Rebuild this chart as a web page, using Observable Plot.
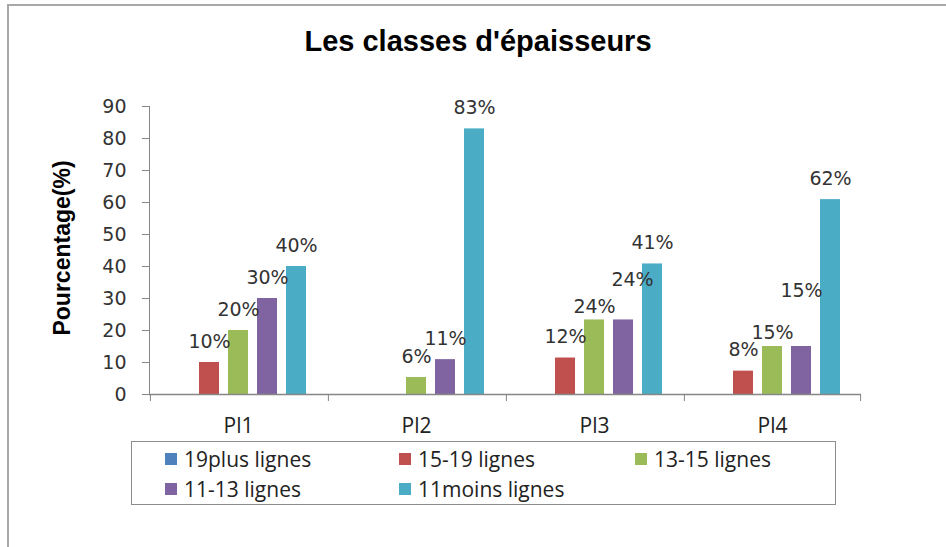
<!DOCTYPE html>
<html><head><meta charset="utf-8">
<script src="https://cdn.jsdelivr.net/npm/d3@7"></script>
<script src="https://cdn.jsdelivr.net/npm/@observablehq/plot@0.6"></script>
<style>
html,body{margin:0;padding:0;background:#fff;}
#chart{position:relative;width:946px;height:547px;overflow:hidden;background:#fff;}
#border{position:absolute;left:7px;top:4px;width:1000px;height:700px;border-left:2px solid #a8a8a8;border-top:2px solid #a8a8a8;box-sizing:border-box;}
#title{position:absolute;left:5px;width:946px;top:25px;line-height:29px;text-align:center;font:bold 29px "Liberation Sans",Arial,sans-serif;color:#000;}
#ytitle{position:absolute;left:62px;top:248px;transform:translate(-50%,-50%) rotate(-90deg);font:bold 23px "Liberation Sans",Arial,sans-serif;color:#000;white-space:nowrap;}
#plot{position:absolute;left:0;top:0;}
#legend{position:absolute;left:131px;top:441px;width:705px;height:64px;border:1.5px solid #8c8c8c;box-sizing:border-box;}
.item{position:absolute;height:24px;line-height:24px;display:flex;align-items:center;font:21px "Open Sans",sans-serif;color:#222;white-space:nowrap;}
.sw{width:12px;height:12px;margin-right:7px;flex:none;}
#plot svg [aria-label="y-axis tick"], #plot svg [aria-label="y-axis line"]{stroke:#868686;}
#plot svg [aria-label="y-axis tick label"]{fill:#333;font-family:"DejaVu Sans";font-size:19px;}
#plot svg [aria-label="fx-axis tick label"]{fill:#222;font-family:"Open Sans";font-size:21px;}
</style>
</head><body>
<div id="chart">
  <div id="border"></div>
  <div id="plot"></div>
  <div id="title"></div>
  <div id="ytitle"></div>
  <div id="legend"></div>
</div>
<script>
// ---------- data ----------
const titleText = "Les classes d'épaisseurs";
const yTitle = "Pourcentage(%)";
const categories = ["Pl1", "Pl2", "Pl3", "Pl4"];
const seriesNames = ["19plus lignes", "15-19 lignes", "13-15 lignes", "11-13 lignes", "11moins lignes"];
const values19plus  = [0, 0, 0, 0];
const values15_19   = [10, 0, 11.4, 7.3];
const values13_15   = [20, 5.3, 23.3, 15];
const values11_13   = [30, 10.9, 23.3, 15];
const values11moins = [40, 83, 40.8, 60.9];
const labels19plus  = ["", "", "", ""];
const labels15_19   = ["10%", "", "12%", "8%"];
const labels13_15   = ["20%", "6%", "24%", "15%"];
const labels11_13   = ["30%", "11%", "24%", "15%"];
const labels11moins = ["40%", "83%", "41%", "62%"];
const yTicks = [0, 10, 20, 30, 40, 50, 60, 70, 80, 90];

// ---------- style ----------
const colors = ["#4F81BD", "#C0504D", "#9BBB59", "#8064A2", "#4BACC6"];
// label placement as in the original (some labels were moved by hand)
const labelNudge = {
  "Pl3|13-15 lignes": [0, -13],
  "Pl3|11-13 lignes": [9, -40],
  "Pl4|13-15 lignes": [0, -14],
  "Pl4|11-13 lignes": [0, -56]
};
const defaultNudge = [0, -21];

const allValues = [values19plus, values15_19, values13_15, values11_13, values11moins];
const allLabels = [labels19plus, labels15_19, labels13_15, labels11_13, labels11moins];
const rows = [];
categories.forEach((c, ci) => {
  seriesNames.forEach((s, si) => {
    rows.push({cat: c, series: s, value: allValues[si][ci], label: allLabels[si][ci],
      nudge: (labelNudge[c + "|" + s] || defaultNudge).join(",")});
  });
});

// band layout inside each category
const pInner = 0.32, pOuter = 0.68;
const facetWidth = (946 - 148 - 85) / categories.length;
const step = facetWidth / (seriesNames.length - pInner + 2 * pOuter);
const edgeOff = pOuter * step + (1 - pInner) * step / 2;

const nudgeGroups = [...new Set(rows.map(d => d.nudge))];
const labelMarks = nudgeGroups.map(g => {
  const [dx, dy] = g.split(",").map(Number);
  return Plot.text(rows.filter(d => d.nudge === g && d.label !== ""), {
    fx: "cat", x: "series", y: "value", text: "label", dx, dy,
    fill: "#333", fontFamily: "DejaVu Sans", fontSize: 19
  });
});

const chart = Plot.plot({
  width: 946, height: 440,
  marginTop: 106, marginBottom: 46, marginLeft: 148, marginRight: 85,
  style: {background: "transparent", overflow: "visible", fontFamily: "DejaVu Sans", fontSize: "19px", color: "#868686"},
  fx: {domain: categories, padding: 0, axis: "bottom", tickSize: 0, tickPadding: 24, label: null},
  x: {domain: seriesNames, paddingInner: pInner, paddingOuter: pOuter, axis: null},
  y: {domain: [0, 90], ticks: yTicks, tickSize: 7, tickPadding: 16, label: null, line: true},
  color: {domain: seriesNames, range: colors},
  marks: [
    Plot.barY(rows, {fx: "cat", x: "series", y: "value", fill: "series"}),
    Plot.ruleY([0], {stroke: "#868686", strokeWidth: 1.3}),
    Plot.ruleX(categories, {fx: d => d, x: () => seriesNames[0], y1: 0, y2: 0, insetBottom: -7, dx: -edgeOff, stroke: "#868686"}),
    Plot.ruleX([categories[categories.length - 1]], {fx: d => d, x: () => seriesNames[seriesNames.length - 1], y1: 0, y2: 0, insetBottom: -7, dx: edgeOff, stroke: "#868686"}),
    ...labelMarks
  ]
});
document.getElementById("plot").appendChild(chart);
document.getElementById("title").textContent = titleText;
document.getElementById("ytitle").textContent = yTitle;

// legend
const legend = document.getElementById("legend");
const colX = [33, 267, 503], rowY = [5, 35];
seriesNames.forEach((s, i) => {
  const it = document.createElement("div");
  it.className = "item";
  it.style.left = colX[i % 3] + "px";
  it.style.top = rowY[Math.floor(i / 3)] + "px";
  const sw = document.createElement("span");
  sw.className = "sw"; sw.style.background = colors[i];
  const t = document.createElement("span");
  t.textContent = s;
  it.appendChild(sw); it.appendChild(t);
  legend.appendChild(it);
});
</script>
</body></html>
